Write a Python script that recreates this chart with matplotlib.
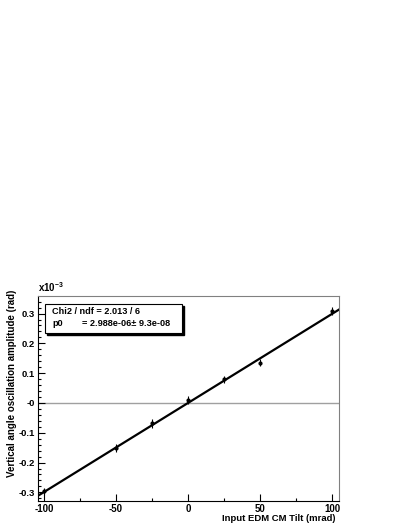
import numpy as np
import matplotlib
matplotlib.use("Agg")
import matplotlib.pyplot as plt
from matplotlib.patches import Rectangle

plt.rcParams["font.family"] = ["Liberation Sans", "DejaVu Sans"]
plt.rcParams["font.weight"] = "bold"

# Donnees (y en unites de 1e-3 rad)
tilt = [-100, -50, -25, 0, 25, 50, 100]
amplitude = [-0.296, -0.152, -0.068, 0.010, 0.079, 0.135, 0.309]
amp_err = [0.012, 0.014, 0.015, 0.013, 0.012, 0.011, 0.013]

p0 = 2.988e-06
p0_err = 9.3e-08
chi2 = 2.013
ndf = 6

xticks = [-100, -50, 0, 50, 100]
xtick_labels = ["-100", "-50", "0", "50", "100"]
yticks = [-0.3, -0.2, -0.1, 0.0, 0.1, 0.2, 0.3]
ytick_labels = ["-0.3", "-0.2", "-0.1", "-0", "0.1", "0.2", "0.3"]

W, H = 407, 527
fig = plt.figure(figsize=(W / 100, H / 100), dpi=100)
ax = fig.add_axes([38 / W, 1 - 501 / H, (339 - 38) / W, (501 - 296) / H])

xmin, xmax = -104.2, 104.9
ymin, ymax = -0.329, 0.359
ax.set_xlim(xmin, xmax)
ax.set_ylim(ymin, ymax)

# ligne zero
ax.axhline(0, color="#a0a0a0", lw=1.0, zorder=1)

# ajustement lineaire (passe par l'origine)
xf = np.array([xmin, xmax])
ax.plot(xf, p0 * 1e3 * xf, color="black", lw=1.6, zorder=3)

ax.errorbar(tilt, amplitude, yerr=amp_err, fmt="o", ms=2, color="black",
            elinewidth=0.8, capsize=0, zorder=4)

ax.set_xticks(xticks)
ax.set_xticklabels(xtick_labels)
ax.set_yticks(yticks)
ax.set_yticklabels(ytick_labels)
ax.set_xticks(np.arange(-100, 101, 25), minor=True)
ax.set_yticks(np.arange(-0.32, 0.35, 0.02), minor=True)
ax.tick_params(which="both", direction="in", top=False, right=False,
               labelsize=7, width=0.8)
ax.tick_params(which="major", length=5)
ax.tick_params(which="minor", length=2.5)
ax.tick_params(axis="x", pad=2.5)
ax.tick_params(axis="y", pad=2, labelsize=6.8)
for lab in ax.get_xticklabels() + ax.get_yticklabels():
    lab.set_fontweight("bold")

for s in ["top", "right"]:
    ax.spines[s].set_color("#808080")
    ax.spines[s].set_linewidth(0.8)
for s in ["left", "bottom"]:
    ax.spines[s].set_color("black")
    ax.spines[s].set_linewidth(0.8)

fig.text(38 / W, 1 - 294 / H, r"x10$^{\mathregular{-3}}$", fontsize=7,
         fontweight="bold", ha="left", va="bottom")

fig.text(12 / W, 1 - 290 / H, "Vertical angle oscillation amplitude (rad)",
         rotation=90, fontsize=7.0, fontweight="bold", ha="center", va="top")
fig.text(336 / W, 1 - 518.5 / H, "Input EDM CM Tilt (mrad)",
         fontsize=6.8, fontweight="bold", ha="right", va="center")

# boite de statistiques
bx0, bx1, by0, by1 = 45, 182, 304, 333
fig.patches.append(Rectangle(((bx0 + 2) / W, 1 - (by1 + 2) / H),
                             (bx1 - bx0) / W, (by1 - by0) / H,
                             transform=fig.transFigure, facecolor="black",
                             edgecolor="black", zorder=5))
fig.patches.append(Rectangle((bx0 / W, 1 - by1 / H),
                             (bx1 - bx0) / W, (by1 - by0) / H,
                             transform=fig.transFigure, facecolor="white",
                             edgecolor="black", lw=0.8, zorder=6))
fig.text(52 / W, 1 - 311 / H, f"Chi2 / ndf = {chi2:.3f} / {ndf}", fontsize=6.6,
         fontweight="bold", va="center", ha="left", zorder=7)
fig.text(52 / W, 1 - 324 / H, "p0", fontsize=6.6, fontweight="bold",
         va="center", ha="left", zorder=7)
fig.text(82 / W, 1 - 324 / H, f"= {p0:.3e}\u00b1 {p0_err:.1e}",
         fontsize=6.6, fontweight="bold", va="center", ha="left", zorder=7)

fig.savefig("out.png", dpi=100)
